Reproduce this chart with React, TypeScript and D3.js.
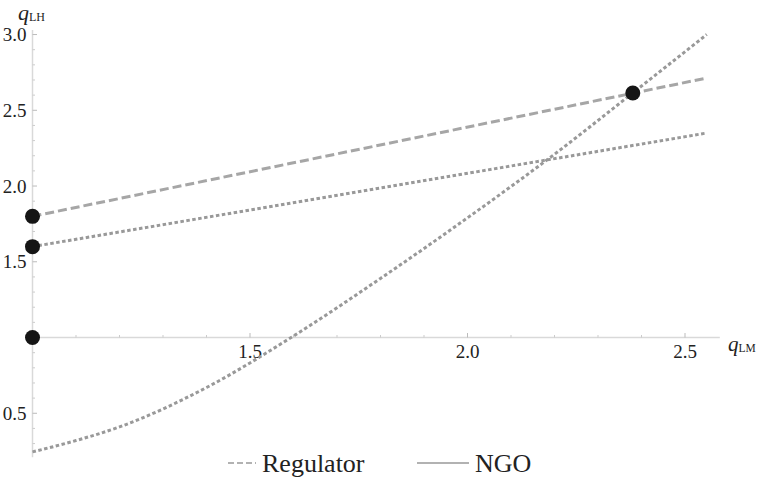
import React from 'react';
import * as d3 from 'd3';

// Regulator (dashed) straight line
const regulatorX = [1.0, 2.55];
const regulatorY = [1.8, 2.713];

// NGO lines (dotted)
const ngoLineX = [1.0, 2.55];
const ngoLineY = [1.6, 2.35];

const ngoCurveX = [1.0, 1.1, 1.2, 1.4, 1.6, 1.8, 2.0, 2.2, 2.4, 2.55];
const ngoCurveY = [0.245, 0.32, 0.41, 0.67, 1.01, 1.39, 1.79, 2.21, 2.66, 3.0];

// equilibrium markers
const dotX = [1.0, 1.0, 1.0, 2.38];
const dotY = [1.8, 1.6, 1.0, 2.614];

const xMajor = [1.5, 2.0, 2.5];
const yMajor = [0.5, 1.5, 2.0, 2.5, 3.0];

const W = 759;
const H = 482;

export default function App() {
  const x = d3.scaleLinear().domain([1, 2.58]).range([32.5, 719.8]);
  const y = d3.scaleLinear().domain([0.21, 3.03]).range([457.2, 30]);

  const line = d3.line<[number, number]>()
    .x(d => x(d[0]))
    .y(d => y(d[1]));
  const curve = d3.line<[number, number]>()
    .x(d => x(d[0]))
    .y(d => y(d[1]))
    .curve(d3.curveMonotoneX);

  const zip = (a: number[], b: number[]) => a.map((v, i) => [v, b[i]] as [number, number]);

  const xMinor = d3.range(11, 26).map(v => v / 10).filter(v => !xMajor.some(m => Math.abs(m - v) < 1e-6));
  const yMinor = d3.range(3, 31).map(v => v / 10).filter(v => v !== 1 && !yMajor.some(m => Math.abs(m - v) < 1e-6));

  const axisColor = '#d9d9d9';
  const font = '"Liberation Serif", "Times New Roman", serif';
  const x0 = x(1);
  const y0 = y(1);

  return (
    <svg width={W} height={H} style={{ position: 'absolute', left: 0, top: 0, fontFamily: font }}>
      <rect width={W} height={H} fill="#fff" />
      {/* axes */}
      <line x1={x0} x2={x.range()[1]} y1={y0} y2={y0} stroke={axisColor} strokeWidth={1.5} />
      <line x1={x0} x2={x0} y1={y.range()[0]} y2={y.range()[1]} stroke={axisColor} strokeWidth={1.5} />
      {xMinor.map(v => (
        <line key={'xm' + v} x1={x(v)} x2={x(v)} y1={y0} y2={y0 - 2.5} stroke="#ccc" strokeWidth={1} />
      ))}
      {xMajor.map(v => (
        <g key={'xM' + v}>
          <line x1={x(v)} x2={x(v)} y1={y0} y2={y0 - 4.5} stroke="#bbb" strokeWidth={1} />
          <text x={x(v)} y={y0 + 20} textAnchor="middle" fontSize={19} fill="#222" style={{ fontFamily: font }}>{v.toFixed(1)}</text>
        </g>
      ))}
      {yMinor.map(v => (
        <line key={'ym' + v} x1={x0} x2={x0 + 2.5} y1={y(v)} y2={y(v)} stroke="#ccc" strokeWidth={1} />
      ))}
      {yMajor.map(v => (
        <g key={'yM' + v}>
          <line x1={x0} x2={x0 + 4.5} y1={y(v)} y2={y(v)} stroke="#bbb" strokeWidth={1} />
          <text x={x0 - 6} y={y(v)} dy="0.35em" textAnchor="end" fontSize={19} fill="#222" style={{ fontFamily: font }}>{v.toFixed(1)}</text>
        </g>
      ))}
      {/* axis titles */}
      <text x={18} y={20} fontSize={22} fill="#222" style={{ fontFamily: font }}>
        <tspan fontStyle="italic">q</tspan>
        <tspan fontSize={12} dy={1}>LH</tspan>
      </text>
      <text x={728} y={351} fontSize={21} fill="#222" style={{ fontFamily: font }}>
        <tspan fontStyle="italic">q</tspan>
        <tspan fontSize={11.5} dy={1}>LM</tspan>
      </text>
      {/* series */}
      <path d={curve(zip(ngoCurveX, ngoCurveY)) || ''} fill="none" stroke="#999" strokeWidth={3} strokeDasharray="3.5 2.5" />
      <path d={line(zip(ngoLineX, ngoLineY)) || ''} fill="none" stroke="#999" strokeWidth={3} strokeDasharray="3.5 2.5" />
      <path d={line(zip(regulatorX, regulatorY)) || ''} fill="none" stroke="#a6a6a6" strokeWidth={3} strokeDasharray="9 4" />
      {dotX.map((v, i) => (
        <circle key={'d' + i} cx={x(v)} cy={y(dotY[i])} r={7.5} fill="#151515" />
      ))}
      {/* legend */}
      <line x1={228} x2={256} y1={463} y2={463} stroke="#999" strokeWidth={1.5} strokeDasharray="6 3" />
      <text x={262} y={472} fontSize={26} fill="#222" style={{ fontFamily: font }}>Regulator</text>
      <line x1={417} x2={469} y1={463} y2={463} stroke="#999" strokeWidth={1.5} />
      <text x={475} y={472} fontSize={26} fill="#222" style={{ fontFamily: font }}>NGO</text>
    </svg>
  );
}
